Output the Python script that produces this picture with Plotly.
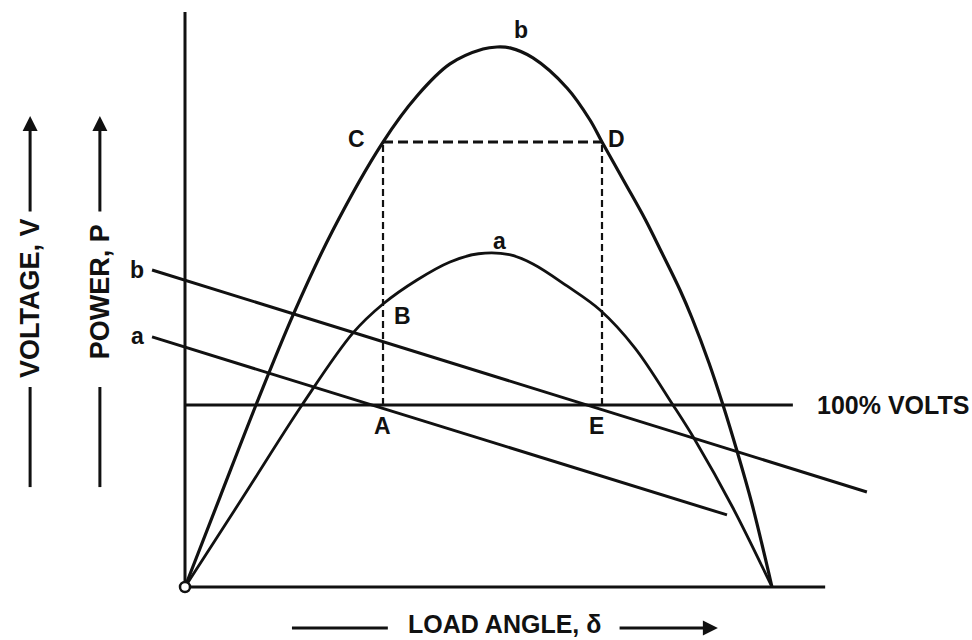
import plotly.graph_objects as go

# Power-angle curves: load angle (degrees) vs power / voltage (per unit)
delta_b = [0, 10.73, 21.77, 33.42, 45.38, 60.72, 71.14, 81.26, 91.38, 95.67, 99.66,
           106.71, 117.14, 124.19, 127.87, 134.92, 141.06, 146.27, 151.79, 155.47,
           160.68, 164.97, 169.27, 173.87, 180]
power_b = [0, 0.494, 1.0, 1.506, 1.962, 2.445, 2.698, 2.874, 2.956, 2.967, 2.962,
           2.907, 2.742, 2.566, 2.445, 2.220, 2.022, 1.835, 1.632, 1.478,
           1.231, 1.0, 0.747, 0.456, 0]

delta_a = [0, 17.79, 35.88, 51.52, 60.72, 71.14, 81.26, 90.0, 99.5, 106.71,
           117.14, 127.26, 137.99, 149.64, 156.39, 168.04, 180]
power_a = [0, 0.494, 1.0, 1.396, 1.555, 1.687, 1.786, 1.831, 1.826, 1.775,
           1.654, 1.522, 1.313, 1.0, 0.808, 0.434, 0]

# Voltage characteristics a and b (straight, drooping)
volt_b_delta = [-10.1, 209.1]
volt_b = [1.742, 0.522]
volt_a_delta = [-10.1, 166.2]
volt_a = [1.374, 0.396]

# 100 % volts reference level
rated_delta = [0, 186.4]
rated_volts = [1.0, 1.0]

# Operating points: C/D on curve b, A/E on the 100 % line, B on curve a
delta_C, delta_D = 60.72, 127.87
level_CD = 2.445

# Axes extents
x_axis_end = 196.3
y_axis_top = 3.159

# Page mapping: origin pixel, degrees per pixel, pixels per unit
W, H = 972, 640
ox, oy = 185, 587
deg_per_px = 180 / 587
px_per_unit = 182

INK = "#111111"
FONT = "Liberation Sans, Arial, sans-serif"

fig = go.Figure()

def line(xs, ys, width=3, dash=None, shape="linear"):
    fig.add_trace(go.Scatter(
        x=xs, y=ys, mode="lines",
        line=dict(color=INK, width=width, dash=dash, shape=shape, smoothing=1.0),
        hoverinfo="skip", showlegend=False))

# axes
line([0, 0], [0, y_axis_top], width=3)
line([0, x_axis_end], [0, 0], width=3)

# rated voltage line
line(rated_delta, rated_volts, width=3)

# voltage lines
line(volt_b_delta, volt_b, width=3)
line(volt_a_delta, volt_a, width=3)

# power curves
line(delta_b, power_b, width=3.2, shape="spline")
line(delta_a, power_a, width=2.8, shape="spline")

# construction lines C-D, C-A, D-E
line([delta_C, delta_D], [level_CD, level_CD], width=3, dash="10px,5px")
line([delta_C, delta_C], [1.0, level_CD], width=2.2, dash="7px,4px")
line([delta_D, delta_D], [1.0, level_CD], width=2.2, dash="7px,4px")

# origin marker
fig.add_trace(go.Scatter(
    x=[0], y=[0], mode="markers",
    marker=dict(symbol="circle", size=10, color="white", line=dict(color=INK, width=2.5)),
    hoverinfo="skip", showlegend=False))

labels = [
    ("C", 52.7, 2.462), ("D", 132.2, 2.462), ("b", 103.0, 3.06), ("a", 96.3, 1.901),
    ("B", 66.8, 1.489), ("A", 60.7, 0.885), ("E", 126.3, 0.885),
    ("b", -14.7, 1.742), ("a", -14.7, 1.379),
]
for txt, x, y in labels:
    fig.add_annotation(x=x, y=y, text=txt, showarrow=False,
                       font=dict(family=FONT, size=23, color=INK, weight="bold"))

fig.add_annotation(x=193.2, y=1.0, text="100% VOLTS", showarrow=False, xanchor="left",
                   font=dict(family=FONT, size=25, color=INK, weight="bold"))

# axis titles with their arrows
x_vol, x_pow = -47.5, -26.1
fig.add_annotation(x=x_vol, y=1.588, text="VOLTAGE, V", textangle=-90, showarrow=False,
                   font=dict(family=FONT, size=27, color=INK, weight="bold"))
fig.add_annotation(x=x_pow, y=1.625, text="POWER, P", textangle=-90, showarrow=False,
                   font=dict(family=FONT, size=27, color=INK, weight="bold"))

x_title_y = -0.225
fig.add_annotation(x=98.0, y=-0.2857, text="LOAD ANGLE, δ", showarrow=False,
                   yanchor="bottom", borderpad=0,
                   font=dict(family=FONT, size=25, color=INK, weight="bold"))

for xv in (x_vol, x_pow):
    line([xv, xv], [0.549, 1.099], width=3)
    fig.add_annotation(x=xv, y=2.588, ax=xv, ay=2.055, axref="x", ayref="y",
                       xref="x", yref="y", text="", showarrow=True,
                       arrowhead=2, arrowsize=1.0, arrowwidth=3, arrowcolor=INK)

line([32.8, 62.2], [x_title_y, x_title_y], width=3)
fig.add_annotation(x=163.4, y=x_title_y, ax=132.8, ay=x_title_y, axref="x", ayref="y",
                   xref="x", yref="y", text="", showarrow=True,
                   arrowhead=2, arrowsize=1.0, arrowwidth=3, arrowcolor=INK)

fig.update_layout(
    width=W, height=H,
    margin=dict(l=0, r=0, t=0, b=0),
    paper_bgcolor="white", plot_bgcolor="white",
    xaxis=dict(range=[-ox * deg_per_px, (W - ox) * deg_per_px], visible=False, fixedrange=True),
    yaxis=dict(range=[(oy - H) / px_per_unit, oy / px_per_unit], visible=False, fixedrange=True),
    hovermode=False,
)

fig.write_html("out.html", config={"displayModeBar": False})
